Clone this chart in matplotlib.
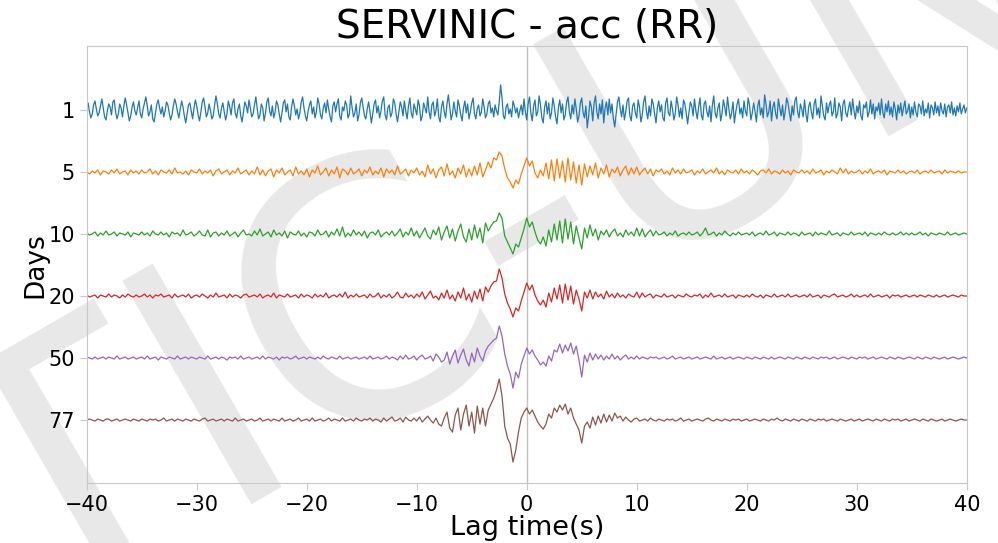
import numpy as np
import matplotlib

matplotlib.use("Agg")
import matplotlib.pyplot as plt

# stacked cross-correlations, amplitude in screen-pixel units (positive = up)
days = ["1", "5", "10", "20", "50", "77"]
colors = ["tab:blue", "tab:orange", "tab:green", "tab:red", "tab:purple", "tab:brown"]

# day 1 sampled at 0.125 s, the other stacks at 0.25 s (-40..40 s)
cc_1 = [
    3, 7, -2, -8, -4, 5, 9, 1, -6, -3, 4, 11, 2, -7, -10, -1, 6, 3, -5, 8,
    10, -2, -9, -4, 6, 2, -7, 4, 12, 5, -3, -11, -6, 3, 8, -1, -5, 2, 9, -4,
    -8, 1, 7, 13, 4, -6, -2, 5, -9, -12, -3, 6, 10, 2, -4, 3, -7, -1, 8, 5,
    -3, -10, -5, 4, 11, 6, -2, -8, 1, 9, 3, -6, -13, -4, 5, 7, -1, -9, 2, 10,
    4, -5, -11, -2, 8, 12, 3, -7, -3, 6, -1, -9, -6, 5, 14, 6, -4, -8, 2, 7,
    -2, -10, -4, 9, 3, -5, 7, 11, -3, -8, 1, 6, -6, -12, -2, 8, 4, -3, 10, 2,
    -7, -4, 5, 13, 1, -9, -5, 6, 2, -11, -3, 8, 12, -1, -6, 4, -8, -2, 9, 5,
    -4, -12, -3, 7, 10, -2, 6, -7, -10, 3, 11, 4, -5, 1, -9, -3, 8, 13, 2, -6,
    -11, -1, 5, 9, -4, 3, -8, -2, 12, 6, -5, -9, 2, 7, -3, 10, 1, -7, -12, 4,
    8, -2, 6, 11, -6, -10, 3, -1, 9, 5, -8, -4, 14, 2, -7, -3, 6, -11, -5, 7,
    12, 3, -6, -9, 1, 8, -2, -13, -4, 6, 10, -3, 4, -8, -1, 9, 13, -5, -10, 2,
    5, -7, -3, 11, 7, -4, -12, -2, 8, 3, -6, 9, -1, -9, 4, 12, -3, -8, 6, 1,
    -5, 10, 4, -11, -6, 7, 2, -3, 13, -2, -9, 5, 8, -6, -1, 11, -7, -12, 3, 9,
    -2, -8, 6, 15, 3, -10, -4, 8, -1, -7, 10, 4, -5, -11, 2, 9, -3, 6, -9, -2,
    7, 12, -4, -9, 1, 5, -6, -2, 11, 3, -8, -4, 6, 9, -3, 2, -7, 5, -1, -5,
    8, 25, 12, -6, -9, 3, 6, -4, 1, -7, 9, 4, -3, 2, -8, -1, 5, -5, 11, -2,
    -10, 6, 13, -3, -11, 4, 10, -6, -2, 14, 5, -8, -13, 3, 9, -4, 7, -9, -3, 12,
    4, -7, -14, 2, 10, -3, 6, -10, -5, 8, 13, -2, -9, 5, -4, 11, 1, -12, -6, 7,
    12, -3, -8, 4, -18, -6, 9, 3, -11, 7, 14, -2, -9, 6, -4, 10, -13, 2, 8, -5,
    11, -3, 6, -9, -17, -4, 8, 13, 1, -7, 5, -10, -2, 9, 12, -6, -11, 4, 7, -3,
    -8, 10, 3, -12, -5, 8, 14, -1, -9, 4, -6, 11, 6, -4, -13, 2, 9, -2, 5, -8,
    -11, 7, 12, -3, -6, 9, 1, -10, -4, 13, 5, -7, 2, -9, 10, 6, -3, -14, -2, 8,
    4, -6, 11, -1, -9, 3, 12, -5, -10, 6, 9, -2, -7, 4, -12, 5, 14, -3, -8, 2,
    7, -11, -4, 10, 3, -6, 13, 1, -9, -3, 8, -13, -2, 6, 11, -4, 2, -8, 9, -1,
    -6, 12, 5, -10, -3, 7, -1, -12, 4, 10, -5, 2, -8, 15, 6, -7, -2, 9, -11, 3,
    8, -4, -9, 11, 2, -6, 5, -10, -1, 12, 7, -3, -11, 4, -5, 9, 13, -2, -8, 6,
    1, -7, 10, -4, -12, 3, 8, -2, -9, 6, 11, -5, 2, -8, 14, 4, -6, -10, 7, -3,
    5, 9, -6, -2, 12, -8, -4, 7, 3, -11, 6, 10, -3, -7, 2, 8, -5, 11, -1, -9,
    4, -3, 9, -6, -10, 5, 2, 8, -7, -2, 10, -4, 6, -9, 3, -1, 7, -5, 11, -3,
    -8, 6, -2, 9, -5, 3, -7, 8, 1, -10, 5, -3, 7, -6, 2, 9, -4, -1, 6, -8,
    3, -5, 8, -2, -7, 6, 4, -4, 9, -6, 1, -3, 7, -8, 5, 2, -5, 8, -3, 4,
    -6, 7, -1, -4, 6, -7, 3, 5, -3, 8, -5, 2, -6, 4, -2, 7, -4, 1, 5, -3,
    2,
]
cc_5 = [
    0, -2, 1, -1, 2, -3, 1, 0, -2, 2, -1, 3, -2, 0, 1, -3, 2, -1, 1, -2,
    2, -1, 0, 3, -2, 1, -3, 2, 0, -1, 2, -2, 4, -1, 0, -2, 1, -3, 2, 0,
    -1, 3, -2, 1, -1, 2, -4, 1, 3, -2, 0, 2, -3, 1, -1, 4, -2, 0, 2, -3,
    1, -2, 5, -3, 2, -4, 1, 3, -5, 2, -1, 4, -3, 0, 2, -4, 5, -2, 1, -3,
    3, -5, 2, -1, 6, -3, 0, 4, -4, 2, -2, 5, -6, 3, 1, -3, 4, -2, 0, 3,
    -4, 2, -1, 5, -3, 1, -2, 4, -5, 3, -1, 2, -3, 6, -2, 0, 3, -4, 2, -1,
    4, -3, 1, -5, 7, -2, 3, -6, 2, 5, -4, 8, -3, 1, -6, 4, -2, 7, -5, 3,
    -4, 6, -3, 9, -5, 2, 10, 4, 14, 12, 20, 16, 3, -6, -10, -16, -8, -12, -2, 6,
    14, 6, 11, -1, -6, 2, -4, 9, -7, 12, -9, 13, -6, 11, -10, 14, -8, 10, -11, 7,
    -13, 8, -5, 6, -3, 9, -6, 4, -2, 7, -5, 3, -1, 5, -4, 2, 6, -3, 4, -2,
    5, -3, 1, 4, -2, 3, -4, 2, 0, 3, -2, 1, -3, 4, -1, 2, -2, 3, -1, 0,
    2, -3, 1, -1, 3, -2, 0, 2, -1, 4, -2, 1, -3, 2, 0, -1, 2, -2, 3, -1,
    1, -2, 2, 0, -3, 1, 2, -1, 3, -2, 1, 0, -2, 2, -1, 1, -3, 2, 0, -1,
    2, -1, 1, -2, 3, -1, 0, 2, -3, 1, -1, 2, 0, -2, 4, -1, 3, -2, 1, -1,
    0, 2, -2, 1, -1, 3, -2, 0, 1, -1, 2, -3, 1, 0, -1, 2, -1, 1, -2, 0,
    1, -1, 2, -2, 0, 1, -1, 2, -1, 0, 1, -2, 2, -1, 1, 0, -1, 1, -1, 0,
    0,
]
cc_10 = [
    1, -1, 0, 2, -2, 1, -1, 3, -1, 0, 2, -2, 1, 0, -1, 2, -3, 1, 0, -1,
    2, -1, 1, -2, 3, 0, -1, 2, -1, 1, -3, 2, 0, 1, -2, 4, -1, 0, 2, -2,
    0, 3, -1, -2, 4, -3, 1, 2, -2, 1, -1, 3, -2, 0, 2, -3, 1, 4, -1, 0,
    -2, 3, -1, 5, -2, 0, 2, -3, 4, -1, 1, -2, 3, -4, 2, 0, -1, 3, -2, 1,
    -3, 2, 1, -2, 4, -1, 0, 3, -3, 2, -1, 5, -2, 7, -3, 1, -2, 4, -1, 2,
    -2, 3, -4, 1, 2, -1, 4, -3, 0, 2, -1, 3, -2, 1, 5, -3, 2, -1, 6, -2,
    3, -4, 1, 6, -2, -5, 4, -1, 7, -6, 2, 8, -4, 5, -7, 3, 10, -3, -8, 5,
    -6, 9, -4, 6, -9, 11, 3, 8, 12, 13, 21, 16, -2, -8, -14, -20, -10, -13, -4, 5,
    16, 7, 12, 2, -6, -10, -3, -12, 4, -8, 10, -6, 13, -9, 15, -5, 12, -10, 8, -4,
    -15, 6, -4, 9, -2, 5, -6, 3, -1, 4, -3, 2, 5, -2, 1, -3, 4, -1, 2, -2,
    6, -2, 5, -3, 1, 4, -2, 3, -1, 0, 2, -2, 1, -1, 3, -2, 0, 1, -1, 2,
    -1, 0, 2, -2, 1, 6, -1, 0, 2, -2, 1, -1, 3, 0, -2, 1, -1, 2, -1, 0,
    1, -1, 2, -2, 0, 1, -1, 3, -1, 0, 2, -2, 1, 0, -1, 2, -1, 1, 0, -2,
    2, -1, 0, 1, -2, 2, -1, 1, 0, -1, 3, -1, 0, 1, -2, 1, 0, -1, 2, -1,
    0, 1, -1, 2, -2, 1, 0, -1, 1, -1, 2, 0, -1, 1, -1, 0, 2, -1, 1, -1,
    1, -1, 0, 2, -1, 1, -2, 1, 0, -1, 1, 0, -1, 2, -1, 0, 1, -1, 0, 1,
    0,
]
cc_20 = [
    1, -1, 0, 1, -2, 1, 0, -1, 2, -1, 1, 0, -2, 1, -1, 2, 0, -1, 1, -1,
    0, 2, -1, 1, -2, 1, 0, 2, -1, 0, 1, -2, 2, -1, 0, 1, -1, 2, -2, 0,
    1, -1, 2, 0, -2, 1, -1, 3, -1, 0, 1, -2, 2, -1, 1, 0, -2, 1, 2, -1,
    0, 1, -1, 2, -2, 0, 1, -1, 3, -2, 1, 0, -1, 2, -1, 0, 1, -2, 2, -1,
    1, 0, -2, 2, -1, 1, -1, 3, -2, 0, 1, -1, 2, -1, 4, -2, 1, -1, 2, -1,
    0, 1, -2, 2, -1, 0, 3, -2, 1, -1, 2, -2, 0, 4, -1, -2, 3, -1, 1, -2,
    2, -1, 4, -3, 1, 5, -2, 0, -4, 3, -2, 6, -3, 1, -5, 4, -2, 8, -4, 2,
    -6, 5, -3, 7, -5, 9, 4, 10, 14, 15, 27, 18, 2, -7, -13, -21, -12, -15, -5, 4,
    13, 6, 11, 1, -5, -9, -4, -11, 3, -6, 8, -3, 11, -7, 12, -4, 10, -8, 6, -3,
    -15, 4, -2, 6, -3, 4, -1, 2, -3, 5, -1, 2, -2, 3, -1, 1, -2, 2, 0, -1,
    4, -2, 3, -1, 1, 2, -2, 1, 0, -1, 2, -1, 0, 1, -2, 1, 0, -1, 2, 0,
    -1, 1, 0, 2, -2, 1, -1, 3, -1, 0, 1, -1, 2, -1, 0, 1, -2, 1, 0, -1,
    1, -1, 2, 0, -1, 1, -2, 1, 0, -1, 2, -1, 0, 1, -1, 2, -1, 0, 1, -1,
    0, 1, -1, 2, -1, 0, 1, -2, 1, 0, -1, 1, 2, -1, 0, 1, -1, 0, 2, -1,
    1, -1, 0, 1, -1, 2, -1, 0, 1, -1, 0, 1, -2, 1, 0, 1, -1, 0, 1, -1,
    0, 1, -1, 1, 0, -1, 1, 0, -1, 1, -1, 0, 1, -1, 0, 1, 0, -1, 1, 0,
    0,
]
cc_50 = [
    1, 0, -1, 1, -1, 0, 1, -1, 1, 0, -1, 2, -1, 0, 1, -1, 0, 1, -1, 0,
    1, -1, 2, -1, 0, 1, -2, 1, 0, -1, 1, 0, -1, 2, -1, 0, 1, -1, 1, 0,
    -1, 1, 0, -1, 2, -1, 0, 1, -1, 1, 0, -2, 1, 0, 1, -1, 2, -1, 0, 1,
    -1, 0, 1, -1, 2, -1, 1, 0, -1, 1, -2, 1, 0, 1, -1, 0, 2, -1, 0, 1,
    -1, 1, 0, -1, 1, -1, 2, 0, -1, 1, 0, -1, 2, -1, 0, 1, -1, 0, 1, -1,
    0, 1, -1, 2, -1, 0, 1, -1, 0, 2, -1, 1, 0, -2, 2, -1, 3, -1, 0, 2,
    -2, 1, 3, -1, 0, 2, -3, 4, 1, -4, -2, 6, -6, 2, 8, -5, 3, 9, -2, -8,
    5, -4, 10, 2, -3, 7, 12, 15, 18, 20, 32, 22, 4, -8, -16, -30, -14, -20, -6, 2,
    10, 4, 8, 2, -2, -7, -4, -8, 2, -3, 8, 6, 14, 5, 13, 7, 15, 4, 12, -2,
    -19, 3, -4, 5, -2, 4, -1, 3, -2, 2, -1, 4, -1, 2, -2, 1, 3, -1, 1, -1,
    2, -1, 1, 0, -1, 1, 0, 1, -1, 0, 1, -1, 0, 2, -1, 0, 1, -1, 0, 1,
    -1, 0, 1, -1, 0, 1, 0, -1, 2, -1, 0, 1, -1, 0, 1, -1, 0, 1, 0, -1,
    1, 0, -1, 1, 0, -1, 1, 0, -1, 1, -1, 0, 1, 0, -1, 1, 0, -1, 1, 0,
    -1, 1, 0, -1, 1, 0, -1, 1, 0, 1, -1, 0, 1, -1, 0, 1, 0, -1, 1, 0,
    -1, 1, 0, 1, -1, 0, 1, -1, 0, 1, 0, -1, 1, 0, -1, 1, 0, -1, 0, 1,
    0, -1, 1, 0, -1, 1, 0, -1, 1, 0, -1, 0, 1, -1, 0, 1, 0, -1, 0, 1,
    0,
]
cc_77 = [
    0, 1, 0, -1, 1, 0, -1, 1, 1, -1, 0, 1, -1, 0, 1, 0, -1, 1, 0, -1,
    1, 0, -1, 1, 0, 1, -1, 0, 2, -1, 0, 1, -1, 1, 0, -1, 1, 0, -1, 1,
    0, -1, 1, 2, -1, 0, 1, -1, 0, 1, -1, 1, 0, -1, 2, -1, 0, 1, -1, 0,
    1, -1, 0, 2, -1, 0, 1, -1, 1, 0, -1, 2, -1, 0, 1, -1, 0, 2, -1, 0,
    1, -1, 2, -1, 0, 1, -1, 0, 2, -1, 1, 0, -1, 2, -1, 0, 1, -1, 2, 0,
    -1, 1, 0, 2, -1, 1, 0, -2, 2, -1, 1, 3, -1, 0, 2, -2, 3, 0, -1, 2,
    -1, 3, -2, 1, 4, 0, -3, 2, -4, -6, 2, 8, -8, -12, 5, 12, -10, 6, 15, -6,
    8, -13, 14, -4, 12, -6, 10, 16, 22, 30, 41, 24, -6, -18, -24, -42, -30, -12, 2, 8,
    12, 6, 10, 4, -2, -6, -9, -4, 6, 2, 12, 8, 15, 10, 16, 6, 12, 2, -4, -10,
    -23, -6, -2, -8, 3, -5, 4, -3, 6, -2, 5, -1, 7, 2, 4, -1, 3, 0, -2, 1,
    2, -1, 0, 1, -1, 2, 0, -1, 1, 0, -1, 1, 0, 1, -1, 0, 2, -1, 0, 1,
    -1, 0, 1, 0, -1, 1, 2, 0, -1, 1, 0, -1, 1, 0, -1, 1, 0, 1, -1, 0,
    1, -1, 0, 1, 0, -1, 1, 0, -1, 1, 0, 2, 0, -1, 1, 0, -1, 1, 0, -1,
    1, 0, -1, 1, 0, -1, 1, 0, 1, -1, 0, 1, 0, -1, 1, 0, -1, 0, 1, -1,
    0, 1, -1, 0, 1, 0, -1, 1, 0, -1, 1, 0, -1, 1, 0, 1, -1, 0, 1, -1,
    0, 1, 0, -1, 1, 0, -1, 1, 0, -1, 0, 1, -1, 0, 1, 0, -1, 0, 1, 0,
    0,
]
traces = [cc_1, cc_5, cc_10, cc_20, cc_50, cc_77]

PX_PER_UNIT = 62.0  # spacing between traces in pixels

fig = plt.figure(figsize=(9.98, 5.43), dpi=100)

# watermark behind everything
fig.text(0.036, -0.16, "TIC-UNI", fontsize=254, color="#e8e8e8",
         rotation=30, rotation_mode="anchor", ha="left", va="baseline", zorder=-1)

ax = fig.add_axes([0.0869, 0.1099, 0.8818, 0.8053])
ax.set_facecolor("none")

n = len(traces)
for k, (vals, col) in enumerate(zip(traces, colors)):
    vals = np.asarray(vals, dtype=float)
    lag = np.linspace(-40, 40, len(vals))
    ax.plot(lag, (n - 1 - k) + vals / PX_PER_UNIT, color=col, lw=0.9)

ax.axvline(0, color="#c0c0c0", lw=1.0, zorder=0)

ax.set_xlim(-40, 40)
ax.set_ylim(-1.02, 6.03)
ax.set_xticks(range(-40, 41, 10))
ax.set_yticks([n - 1 - k for k in range(n)])
ax.set_yticklabels(days)

for s in ax.spines.values():
    s.set_color("#c8c8c8")
ax.tick_params(colors="#c8c8c8", labelcolor="black", labelsize=15, length=5)

ax.set_title("SERVINIC - acc (RR)", fontsize=28, pad=5)
ax.set_xlabel("Lag time(s)", fontsize=19.5, labelpad=0)
ax.set_ylabel("Days", fontsize=19, labelpad=0)

fig.savefig("out.png", dpi=100)
